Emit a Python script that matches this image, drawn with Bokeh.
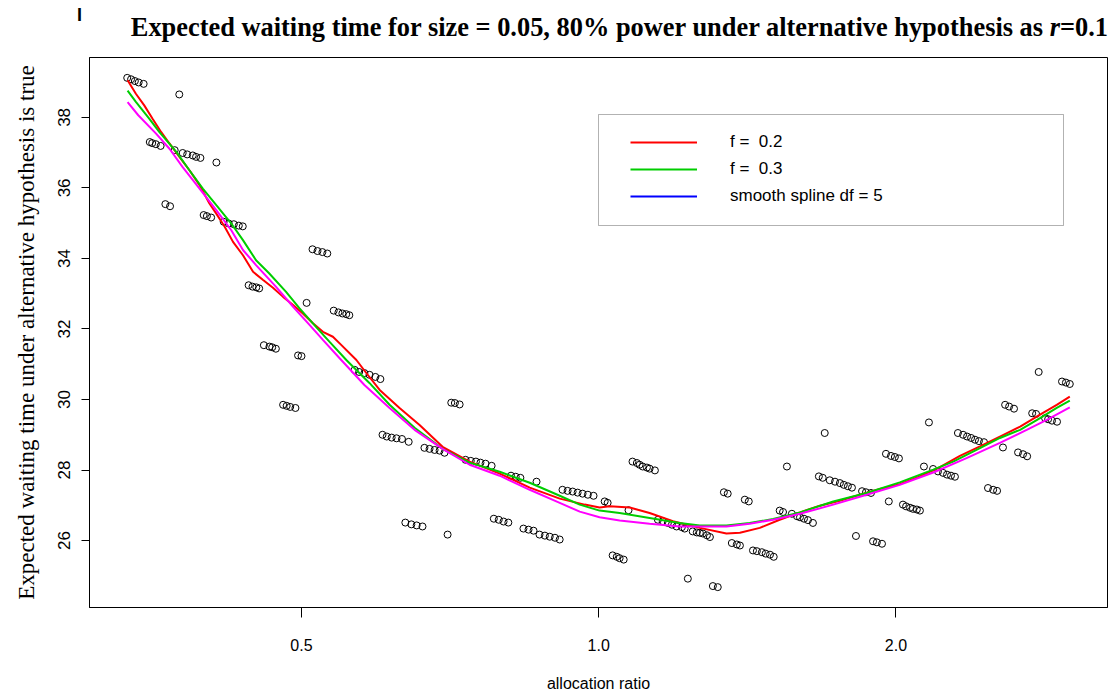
import numpy as np
from bokeh.plotting import figure
from bokeh.layouts import column
from bokeh.models import (FixedTicker, CustomJSTickFormatter, Range1d, Legend,
                          LegendItem, BoxAnnotation, Div)
from bokeh.embed import file_html
from bokeh.resources import INLINE

# ---------------- data ----------------
ratio = [0.333, 0.336, 0.339, 0.342, 0.346, 0.376,
         0.351, 0.353, 0.356, 0.360, 0.372,
         0.379, 0.383, 0.388, 0.391, 0.395, 0.410,
         0.364, 0.368, 0.398, 0.401, 0.405,
         0.417, 0.422, 0.427, 0.432, 0.436,
         0.442, 0.446, 0.450, 0.453,
         0.458, 0.464, 0.467, 0.471,
         0.496, 0.500, 0.506,
         0.513, 0.519, 0.525, 0.531,
         0.539, 0.545, 0.550, 0.555, 0.559,
         0.479, 0.483, 0.487, 0.493,
         0.566, 0.572, 0.579, 0.586, 0.594, 0.601,
         0.604, 0.610, 0.617, 0.624, 0.632, 0.642,
         0.637, 0.646, 0.654, 0.663, 0.703,
         0.709, 0.715, 0.723,
         0.666, 0.674, 0.682, 0.690, 0.698,
         0.733, 0.742, 0.751, 0.759, 0.768, 0.779,
         0.783, 0.792, 0.801, 0.810,
         0.815, 0.824, 0.833,
         0.839, 0.849, 0.859, 0.865,
         0.871, 0.882, 0.892, 0.903, 0.913,
         0.919, 0.930, 0.941, 0.952, 0.963, 0.975, 0.988,
         1.014, 1.021,
         1.082, 1.093, 1.100, 1.108, 1.119, 1.126, 1.140,
         1.033, 1.043, 1.050, 1.060, 1.072,
         1.148, 1.161, 1.175, 1.186, 1.199, 1.214, 1.222,
         1.245, 1.257, 1.266, 1.275, 1.287, 1.296,
         1.231, 1.305, 1.320,
         1.339, 1.351,
         1.364, 1.380, 1.390,
         1.406, 1.419,
         1.433, 1.446, 1.463, 1.476, 1.491, 1.504,
         1.525, 1.537, 1.551,
         1.569, 1.588, 1.599, 1.614, 1.629, 1.648,
         1.671, 1.686,
         1.714, 1.735, 1.755, 1.771, 1.788, 1.805,
         1.694, 1.822,
         1.848, 1.865, 1.887,
         1.896, 1.913, 1.936,
         1.954, 1.977, 1.995, 2.014, 1.967,
         2.033, 2.048, 2.067, 2.081, 2.100, 2.115,
         2.135, 2.160,
         2.181, 2.206, 2.232, 2.253, 2.274, 2.295,
         2.311, 2.339, 2.361, 2.383, 2.405, 2.427, 2.456,
         2.479, 2.509, 2.532,
         2.580, 2.604, 2.634, 2.567,
         2.659, 2.690, 2.716,
         2.748, 2.773,
         2.832, 2.852, 2.878, 2.912,
         2.946, 2.973, 3.000, 2.790]

wait_time = [39.12, 39.08, 39.03, 38.99, 38.95, 38.65,
             37.30, 37.27, 37.24, 37.19, 37.07,
             36.99, 36.95, 36.92, 36.88, 36.85, 36.72,
             35.54, 35.48, 35.23, 35.20, 35.16,
             35.04, 34.99, 34.97, 34.93, 34.91,
             33.24, 33.20, 33.18, 33.15,
             31.54, 31.50, 31.48, 31.44,
             31.25, 31.23, 32.74,
             34.26, 34.21, 34.18, 34.14,
             32.52, 32.47, 32.44, 32.42, 32.39,
             29.85, 29.82, 29.79, 29.76,
             30.84, 30.78, 30.75, 30.70, 30.64, 30.58,
             29.00, 28.95, 28.92, 28.90, 28.88, 28.80,
             26.51, 26.46, 26.43, 26.40, 26.17,
             29.91, 29.90, 29.86,
             28.63, 28.60, 28.57, 28.55, 28.49,
             28.29, 28.26, 28.24, 28.21, 28.18, 28.12,
             26.62, 26.59, 26.54, 26.51,
             27.84, 27.81, 27.78,
             26.34, 26.31, 26.28, 27.67,
             26.17, 26.14, 26.11, 26.08, 26.03,
             27.44, 27.41, 27.39, 27.36, 27.33, 27.30, 27.27,
             27.11, 27.07,
             28.24, 28.20, 28.15, 28.10, 28.07, 28.04, 27.99,
             25.58, 25.54, 25.50, 25.46, 26.86,
             26.59, 26.55, 26.50, 26.45, 26.40, 26.38, 26.34,
             26.26, 26.23, 26.22, 26.20, 26.15, 26.10,
             24.92, 24.71, 24.68,
             27.37, 27.33,
             25.93, 25.89, 25.86,
             27.16, 27.11,
             25.72, 25.70, 25.67, 25.63, 25.60, 25.54,
             26.85, 26.81, 28.10,
             26.76, 26.69, 26.66, 26.62, 26.58, 26.50,
             27.82, 27.78,
             27.71, 27.67, 27.63, 27.58, 27.54, 27.50,
             29.05, 26.13,
             27.40, 27.37, 27.35,
             25.98, 25.95, 25.91,
             28.46, 28.40, 28.37, 28.33, 27.11,
             27.02, 26.97, 26.93, 26.90, 26.88, 26.85,
             28.10, 29.35,
             28.03, 27.96, 27.92, 27.87, 27.84, 27.81,
             29.05, 29.00, 28.95, 28.91, 28.86, 28.82, 28.79,
             27.49, 27.44, 27.41,
             29.85, 29.80, 29.74, 28.64,
             28.50, 28.45, 28.39,
             29.61, 29.59,
             29.47, 29.44, 29.40, 29.37,
             30.51, 30.48, 30.44, 30.78]

# smoother with f = 0.2 (red)
f02_x = [0.3333, 0.3398, 0.3465, 0.3533, 0.3605, 0.3675, 0.3761, 0.3850, 0.3942,
         0.4034, 0.4099, 0.4180, 0.4262, 0.4362, 0.4466, 0.4572, 0.4678, 0.4790,
         0.4903, 0.5016, 0.5135, 0.5256, 0.5380, 0.5485, 0.5683, 0.5805, 0.6000,
         0.6285, 0.6585, 0.6948, 0.7400, 0.7938, 0.8514, 0.9131, 0.9679, 1.002,
         1.026, 1.075, 1.126, 1.189, 1.266, 1.347, 1.390, 1.456, 1.525, 1.599,
         1.675, 1.755, 1.839, 1.927, 2.018, 2.115, 2.216, 2.322, 2.433, 2.549,
         2.672, 2.799, 2.910, 3.000]
f02_y = [39.05, 38.67, 38.34, 37.96, 37.58, 37.26, 36.88, 36.50, 36.08,
         35.56, 35.27, 34.90, 34.47, 34.09, 33.62, 33.39, 33.17, 32.91,
         32.68, 32.44, 32.16, 31.92, 31.78, 31.55, 31.12, 30.78, 30.27,
         29.76, 29.28, 28.66, 28.24, 27.90, 27.50, 27.19, 27.02, 26.94,
         26.97, 26.94, 26.78, 26.55, 26.36, 26.20, 26.22, 26.36, 26.59, 26.80,
         26.99, 27.13, 27.30, 27.46, 27.60, 27.82, 28.08, 28.40, 28.67, 28.95,
         29.23, 29.57, 29.85, 30.08]

# smoother with f = 0.3 (green)
f03_x = [0.3333, 0.3398, 0.3507, 0.3590, 0.3734, 0.3850, 0.3972, 0.4099, 0.4245,
         0.4362, 0.4497, 0.4636, 0.4821, 0.4975, 0.5172, 0.5336, 0.5551, 0.5858,
         0.6140, 0.6509, 0.6948, 0.7400, 0.7938, 0.8514, 0.9131, 0.9567, 1.002,
         1.050, 1.126, 1.208, 1.266, 1.347, 1.422, 1.502, 1.599, 1.728, 1.868,
         2.018, 2.182, 2.286, 2.433, 2.549, 2.672, 2.799, 2.910, 3.000]
f03_y = [38.76, 38.44, 37.96, 37.58, 37.02, 36.50, 35.98, 35.51, 34.99,
         34.52, 33.95, 33.58, 33.06, 32.59, 32.06, 31.64, 31.12, 30.47,
         29.85, 29.20, 28.60, 28.21, 27.95, 27.64, 27.27, 27.02, 26.85,
         26.78, 26.64, 26.50, 26.43, 26.43, 26.50, 26.61, 26.80, 27.11, 27.35,
         27.65, 28.01, 28.24, 28.62, 28.91, 29.14, 29.47, 29.76, 29.97]

# smoothing spline df = 5 (magenta)
ss_x = [0.3333, 0.3417, 0.3562, 0.3675, 0.3790, 0.3942, 0.4099, 0.4245, 0.4362,
        0.4497, 0.4710, 0.4903, 0.5097, 0.5256, 0.5465, 0.5790, 0.6140, 0.6509,
        0.6948, 0.7400, 0.7938, 0.8514, 0.9131, 0.9567, 1.002, 1.050, 1.126,
        1.208, 1.347, 1.422, 1.502, 1.599, 1.728, 1.868, 2.018, 2.182, 2.358,
        2.549, 2.713, 2.843, 3.000]
ss_y = [38.43, 38.06, 37.54, 37.11, 36.59, 35.98, 35.37, 34.80, 34.24,
        33.81, 33.20, 32.63, 32.11, 31.69, 31.17, 30.41, 29.76, 29.14,
        28.60, 28.15, 27.84, 27.44, 27.07, 26.82, 26.66, 26.57, 26.48,
        26.40, 26.40, 26.48, 26.59, 26.76, 27.02, 27.30, 27.58, 27.93, 28.34,
        28.77, 29.14, 29.42, 29.78]

x_ticks = [0.5, 1.0, 2.0]
y_ticks = [26, 28, 30, 32, 34, 36, 38]
legend_labels = ["f =\u00a0 0.2", "f =\u00a0 0.3", "smooth spline df = 5"]
title_main = "Expected waiting time for size = 0.05, 80% power under alternative hypothesis as "
title_var = "r"
title_end = "=0.1"

# ---------------- title block ----------------
title_html = (
    '<div style="position:relative;width:1120px;height:57px;">'
    '<span style="position:absolute;left:77px;top:6px;font-family:\'Liberation Sans\';'
    'font-weight:bold;font-size:18px;line-height:1;color:black;">I</span>'
    '<span style="position:absolute;right:12px;top:14px;white-space:nowrap;'
    'font-family:\'Liberation Serif\';font-weight:bold;font-size:26.4px;line-height:1;color:black;">'
    f'{title_main}<i>{title_var}</i>{title_end}</span></div>'
)
title_div = Div(text=title_html, width=1120, height=57, margin=0)

# ---------------- ranges (R style 4% extension) ----------------
lx = np.log(np.array(ratio))
xlo, xhi = lx.min(), lx.max()
xext = 0.04 * (xhi - xlo)
yv = np.array(wait_time)
ylo, yhi = yv.min(), yv.max()
yext = 0.04 * (yhi - ylo)

p = figure(width=1120, height=637, x_axis_type="log", title=None,
           x_range=Range1d(float(np.exp(xlo - xext)), float(np.exp(xhi + xext))),
           y_range=Range1d(float(ylo - yext), float(yhi + yext)),
           output_backend="svg", toolbar_location=None,
           min_border_left=89, min_border_right=13, min_border_top=0,
           min_border_bottom=85, margin=0)
p.grid.visible = False
p.outline_line_color = "black"
p.outline_line_width = 1
p.background_fill_color = "white"
p.border_fill_color = "white"

# x axis
xa = p.xaxis[0]
xa.ticker = FixedTicker(ticks=x_ticks)
xa.formatter = CustomJSTickFormatter(code="return tick.toFixed(1);")
xa.minor_tick_line_color = None
xa.major_tick_in = 0
xa.major_tick_out = 10
xa.axis_line_color = "black"
xa.major_label_text_font = "Liberation Sans"
xa.major_label_text_font_size = "16px"
xa.major_label_text_color = "black"
xa.major_label_standoff = 21
xa.axis_label = "allocation ratio"
xa.axis_label_text_font = "Liberation Sans"
xa.axis_label_text_font_size = "16px"
xa.axis_label_text_font_style = "normal"
xa.axis_label_text_color = "black"
xa.axis_label_standoff = 21

# y axis
ya = p.yaxis[0]
ya.ticker = FixedTicker(ticks=y_ticks)
ya.minor_tick_line_color = None
ya.major_tick_in = 0
ya.major_tick_out = 8
ya.major_label_orientation = "vertical"
ya.major_label_text_font = "Liberation Sans"
ya.major_label_text_font_size = "17px"
ya.major_label_text_color = "black"
ya.major_label_standoff = 11
ya.axis_label = "Expected waiting time under alternative hypothesis is true"
ya.axis_label_text_font = "Liberation Serif"
ya.axis_label_text_font_size = "23px"
ya.axis_label_text_font_style = "normal"
ya.axis_label_text_color = "black"
ya.axis_label_standoff = 17

# points
p.scatter(ratio, wait_time, marker="circle", size=7, fill_color=None,
          line_color="black", line_width=1)

# smoothers
r1 = p.line(f02_x, f02_y, line_color="#FF0000", line_width=2)
r2 = p.line(f03_x, f03_y, line_color="#00CD00", line_width=2)
p.line(ss_x, ss_y, line_color="#FF00FF", line_width=2)
r3 = p.line(ss_x, ss_y, line_color="#0000FF", line_width=2, visible=False)  # legend swatch

legend = Legend(items=[LegendItem(label=legend_labels[0], renderers=[r1]),
                       LegendItem(label=legend_labels[1], renderers=[r2]),
                       LegendItem(label=legend_labels[2], renderers=[r3])],
                location=(531, 391))
legend.border_line_alpha = 0
legend.background_fill_alpha = 0
legend.inactive_fill_alpha = 0
legend.padding = 10
legend.margin = 0
legend.spacing = 7
legend.glyph_width = 67
legend.glyph_height = 20
legend.label_height = 20
legend.label_standoff = 33
legend.label_text_font = "Liberation Sans"
legend.label_text_font_size = "17px"
legend.label_text_color = "black"
p.add_layout(legend)

p.add_layout(BoxAnnotation(left=509, right=974, top=493, bottom=382,
                           left_units="screen", right_units="screen",
                           top_units="screen", bottom_units="screen",
                           fill_alpha=0, line_color="black", line_width=1))

layout = column(title_div, p, spacing=0, margin=0)
open("out.html", "w").write(file_html(layout, INLINE))
